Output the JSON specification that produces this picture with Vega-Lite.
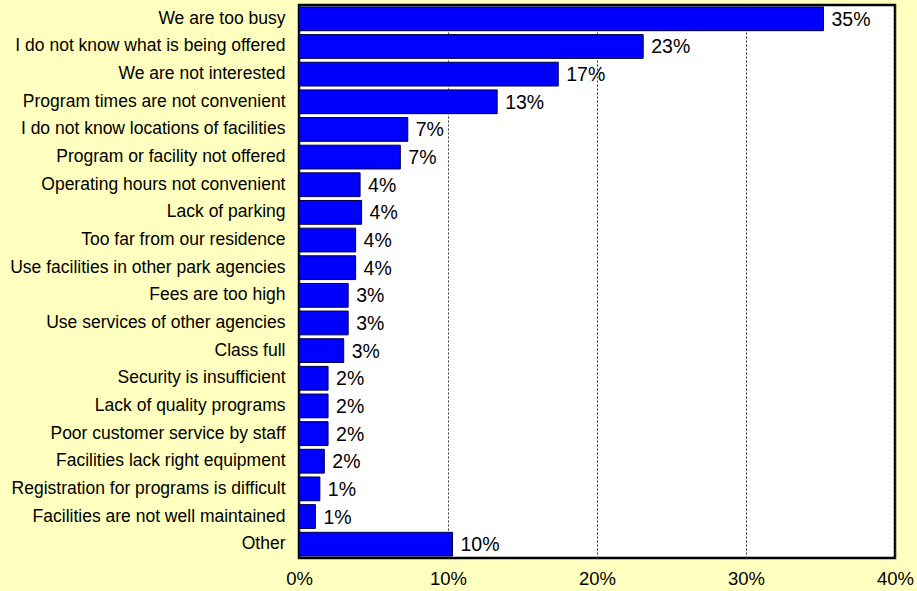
{
  "$schema": "https://vega.github.io/schema/vega-lite/v6.json",
  "width": 596,
  "height": 553,
  "autosize": "none",
  "padding": {"left": 299, "top": 5, "right": 22, "bottom": 33},
  "background": "#FFFFC0",
  "config": {
    "font": "Liberation Sans",
    "view": {"fill": "white", "stroke": "black", "strokeWidth": 2.5}
  },
  "data": {
    "values": [
      {"reason": "We are too busy", "pct": 0.352},
      {"reason": "I do not know what is being offered", "pct": 0.231},
      {"reason": "We are not interested", "pct": 0.174},
      {"reason": "Program times are not convenient", "pct": 0.133},
      {"reason": "I do not know locations of facilities", "pct": 0.073},
      {"reason": "Program or facility not offered", "pct": 0.068},
      {"reason": "Operating hours not convenient", "pct": 0.041},
      {"reason": "Lack of parking", "pct": 0.042},
      {"reason": "Too far from our residence", "pct": 0.038},
      {"reason": "Use facilities in other park agencies", "pct": 0.038},
      {"reason": "Fees are too high", "pct": 0.033},
      {"reason": "Use services of other agencies", "pct": 0.033},
      {"reason": "Class full", "pct": 0.030},
      {"reason": "Security is insufficient", "pct": 0.0195},
      {"reason": "Lack of quality programs", "pct": 0.0195},
      {"reason": "Poor customer service by staff", "pct": 0.0195},
      {"reason": "Facilities lack right equipment", "pct": 0.017},
      {"reason": "Registration for programs is difficult", "pct": 0.014},
      {"reason": "Facilities are not well maintained", "pct": 0.011},
      {"reason": "Other", "pct": 0.103}
    ]
  },
  "encoding": {
    "y": {
      "field": "reason",
      "type": "nominal",
      "sort": null,
      "scale": {"paddingInner": 0.14, "paddingOuter": 0.07},
      "axis": {
        "title": null,
        "ticks": false,
        "domain": false,
        "labelFontSize": 17.5,
        "labelColor": "black",
        "labelPadding": 14,
        "labelLimit": 320
      }
    },
    "x": {
      "field": "pct",
      "type": "quantitative",
      "scale": {"domain": [0, 0.4], "nice": false},
      "axis": {
        "title": null,
        "values": [0, 0.1, 0.2, 0.3, 0.4],
        "format": ".0%",
        "ticks": false,
        "domain": false,
        "labelFlush": false,
        "labelFontSize": 18.5,
        "labelColor": "black",
        "labelPadding": 11,
        "grid": true,
        "gridColor": "#333333",
        "gridDash": [2, 2],
        "gridWidth": 1
      }
    }
  },
  "layer": [
    {
      "mark": {"type": "bar", "fill": "#0000FF", "stroke": "#000040", "strokeWidth": 1}
    },
    {
      "mark": {"type": "text", "align": "left", "baseline": "middle", "dx": 8, "dy": 1, "fontSize": 19.5, "color": "black"},
      "encoding": {
        "text": {"field": "pct", "type": "quantitative", "format": ".0%"}
      }
    }
  ]
}
